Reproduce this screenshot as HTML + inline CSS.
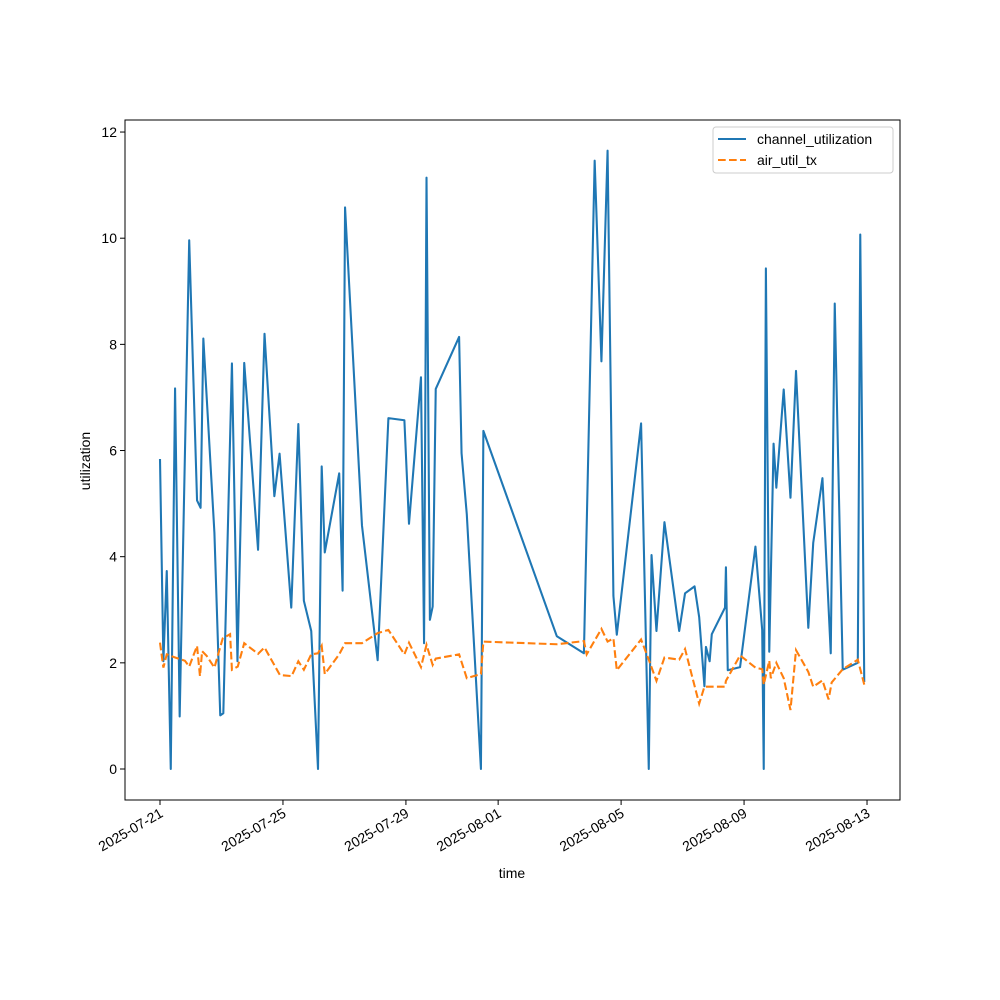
<!DOCTYPE html>
<html><head><meta charset="utf-8"><style>
html,body{margin:0;padding:0;background:#fff;}
svg{display:block;font-family:"Liberation Sans","DejaVu Sans",sans-serif;}
</style></head><body>
<svg id="chart" width="1000" height="1000" viewBox="0 0 1000 1000">
<rect width="1000" height="1000" fill="#fff"/>
<g id="plot"></g>
</svg>
<script>
const tickDays = [0, 4, 8, 11, 15, 19, 23];
const tickLabels = ["2025-07-21","2025-07-25","2025-07-29","2025-08-01","2025-08-05","2025-08-09","2025-08-13"];
const yTicks = [0, 2, 4, 6, 8, 10, 12];
const chanDays = [0,0.11,0.22,0.35,0.49,0.64,0.95,1.205,1.32,1.41,1.77,1.96,2.06,2.34,2.52,2.74,3.19,3.40,3.72,3.89,4.27,4.50,4.68,4.92,5.14,5.26,5.36,5.83,5.94,6.02,6.57,7.08,7.43,7.95,8.10,8.49,8.59,8.67,8.78,8.87,8.97,9.73,9.81,9.98,10.44,10.52,12.91,13.79,14.14,14.36,14.56,14.75,14.86,15.65,15.90,15.99,16.15,16.41,16.89,17.08,17.39,17.54,17.71,17.76,17.88,17.95,18.38,18.41,18.47,18.87,19.37,19.59,19.64,19.71,19.82,19.96,20.05,20.29,20.51,20.69,21.09,21.25,21.55,21.82,21.95,22.21,22.70,22.78,22.91];
const chanVals = [5.84,2.03,3.73,0,7.17,0.99,9.96,5.06,4.92,8.11,4.45,1.01,1.05,7.64,2.03,7.65,4.13,8.20,5.14,5.94,3.04,6.50,3.17,2.60,0,5.70,4.08,5.57,3.36,10.58,4.59,2.05,6.61,6.57,4.62,7.38,2.37,11.14,2.81,3.06,7.16,8.14,5.95,4.80,0,6.37,2.50,2.18,11.46,7.68,11.65,3.26,2.53,6.51,0,4.03,2.60,4.65,2.60,3.31,3.44,2.86,1.56,2.30,2.03,2.54,3.04,3.80,1.86,1.92,4.19,2.62,0,9.43,2.21,6.13,5.30,7.15,5.11,7.50,2.66,4.26,5.48,2.18,8.77,1.87,2.00,10.07,1.64];
const airDays = [0,0.11,0.22,0.35,0.65,0.81,0.95,1.205,1.30,1.37,1.52,1.77,2.04,2.28,2.34,2.53,2.74,3.19,3.40,3.90,4.28,4.50,4.68,4.92,5.14,5.26,5.36,5.83,6.02,6.57,7.08,7.43,7.95,8.10,8.49,8.67,8.87,8.97,9.73,9.98,10.44,10.52,12.91,13.79,13.88,14.36,14.56,14.75,14.86,15.65,15.90,16.15,16.41,16.89,17.08,17.54,17.71,18.38,18.41,18.87,19.37,19.59,19.64,19.82,19.87,20.05,20.29,20.51,20.69,21.09,21.25,21.55,21.75,21.85,22.21,22.70,22.91];
const airVals = [2.38,1.91,2.16,2.13,2.07,2.04,1.93,2.32,1.75,2.22,2.13,1.91,2.46,2.54,1.87,1.93,2.37,2.17,2.29,1.77,1.75,2.03,1.87,2.16,2.18,2.32,1.79,2.16,2.37,2.37,2.56,2.62,2.16,2.38,1.92,2.34,1.96,2.08,2.16,1.71,1.79,2.40,2.35,2.41,2.16,2.64,2.40,2.46,1.86,2.44,2.06,1.66,2.10,2.06,2.26,1.23,1.55,1.55,1.66,2.14,1.91,1.88,1.59,2.04,1.71,2.00,1.71,1.11,2.24,1.83,1.55,1.67,1.31,1.63,1.88,2.06,1.59];

const NS = "http://www.w3.org/2000/svg";
const L = 125, R = 900, T = 120, B = 800;
const xs = d => 160 + d * 30.74;
const ys = v => 769 - v * 53.08;
const g = document.getElementById('plot');
function mk(tag, attrs, parent) {
  const e = document.createElementNS(NS, tag);
  for (const k in attrs) e.setAttribute(k, attrs[k]);
  (parent || g).appendChild(e);
  return e;
}
const p1 = mk('polyline', {points: chanDays.map((d,i)=>xs(d)+','+ys(chanVals[i])).join(' '), fill:'none', stroke:'#1f77b4', 'stroke-width':2.08, 'stroke-linejoin':'round'});


const p2 = mk('polyline', {points: airDays.map((d,i)=>xs(d)+','+ys(airVals[i])).join(' '), fill:'none', stroke:'#ff7f0e', 'stroke-width':2.08, 'stroke-dasharray':'7.7,3.3'});


const fr = mk('rect', {x:L, y:T, width:R-L, height:B-T, fill:'none', stroke:'#000', 'stroke-width':1});


yTicks.forEach(v => {
  const y = ys(v);
  mk('line', {x1:L-5, x2:L, y1:y, y2:y, stroke:'#000', 'stroke-width':1});
  const t = mk('text', {x:L-8, y:y+5, 'text-anchor':'end', 'font-size':14});
  t.textContent = v;
  
  
});
tickDays.forEach((d, i) => {
  const x = xs(d);
  mk('line', {x1:x, x2:x, y1:B, y2:B+5, stroke:'#000', 'stroke-width':1});
  const t = mk('text', {x:x+4, y:B+16, 'text-anchor':'end', 'font-size':14, transform:'rotate(-30 '+(x+4)+' '+(B+16)+')'});
  t.textContent = tickLabels[i];
  
  
});
const xl = mk('text', {x:512, y:878, 'text-anchor':'middle', 'font-size':14});
xl.textContent = 'time';


const yl = mk('text', {x:90, y:461, 'text-anchor':'middle', 'font-size':14, transform:'rotate(-90 90 461)'});
yl.textContent = 'utilization';


const lg = mk('g', {});


mk('rect', {x:713, y:127, width:180, height:46, rx:3, fill:'#fff', 'fill-opacity':0.8, stroke:'#ccc', 'stroke-width':1}, lg);
mk('line', {x1:718, x2:746, y1:139, y2:139, stroke:'#1f77b4', 'stroke-width':2.08}, lg);
mk('line', {x1:718, x2:746, y1:160, y2:160, stroke:'#ff7f0e', 'stroke-width':2.08, 'stroke-dasharray':'7.7,3.3'}, lg);
const l1 = mk('text', {x:757, y:144, 'font-size':14}, lg);
l1.textContent = 'channel_utilization';


const l2 = mk('text', {x:757, y:165, 'font-size':14}, lg);
l2.textContent = 'air_util_tx';


</script>
</body></html>
